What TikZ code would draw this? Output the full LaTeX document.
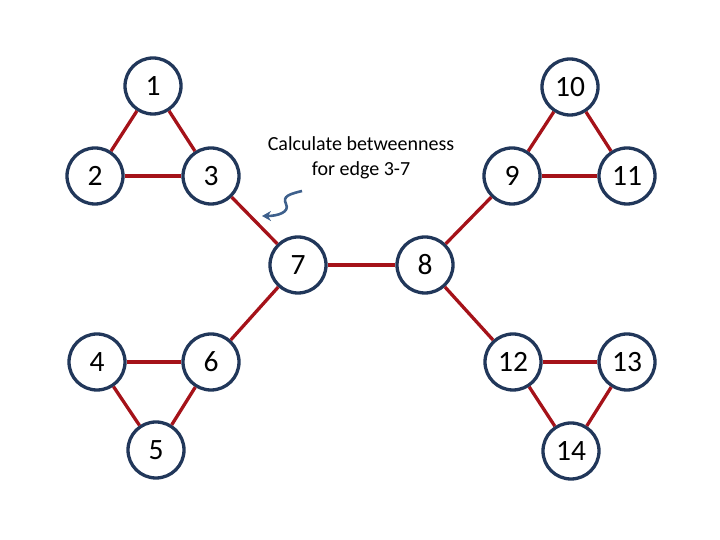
\documentclass[tikz,border=0pt]{standalone}
\usepackage{fontspec}
\setmainfont{Carlito}
\usetikzlibrary{arrows.meta}
\definecolor{nodeblue}{RGB}{33,55,90}
\definecolor{edgered}{RGB}{165,18,25}
\definecolor{arrowblue}{RGB}{62,96,140}
\begin{document}
\begin{tikzpicture}[x=1pt,y=1pt,
  vtx/.style={circle,draw=nodeblue,line width=3.3pt,fill=white,minimum size=56pt,inner sep=0pt,font=\fontsize{29.5}{32}\selectfont},
  edg/.style={draw=edgered,line width=3.3pt}]
\useasboundingbox (0,0) rectangle (720,540);
\node[vtx] (n1) at (153,454) {1};
\node[vtx] (n2) at (95,364) {2};
\node[vtx] (n3) at (211,364) {3};
\node[vtx] (n7) at (298,275) {7};
\node[vtx] (n8) at (425,275) {8};
\node[vtx] (n10) at (570,453) {10};
\node[vtx] (n9) at (512,364) {9};
\node[vtx] (n11) at (627,364) {11};
\node[vtx] (n4) at (97,178) {4};
\node[vtx] (n6) at (211,178) {6};
\node[vtx] (n5) at (156,90) {5};
\node[vtx] (n12) at (513,178) {12};
\node[vtx] (n13) at (627,178) {13};
\node[vtx] (n14) at (571,89) {14};
\draw[edg] (n1) -- (n2);
\draw[edg] (n1) -- (n3);
\draw[edg] (n2) -- (n3);
\draw[edg] (n3) -- (n7);
\draw[edg] (n7) -- (n8);
\draw[edg] (n7) -- (n6);
\draw[edg] (n4) -- (n6);
\draw[edg] (n4) -- (n5);
\draw[edg] (n6) -- (n5);
\draw[edg] (n8) -- (n9);
\draw[edg] (n8) -- (n12);
\draw[edg] (n10) -- (n9);
\draw[edg] (n10) -- (n11);
\draw[edg] (n9) -- (n11);
\draw[edg] (n12) -- (n13);
\draw[edg] (n12) -- (n14);
\draw[edg] (n13) -- (n14);
\node[align=center,font=\fontsize{20}{24.5}\selectfont] (cap) at (361,382) {Calculate betweenness\\for edge 3-7};
\coordinate (as) at (302,349);
\coordinate (ae) at (262,324);
\draw[arrowblue,line width=2.6pt,-{Stealth[length=9pt,width=10pt,inset=3pt]}] (as) .. controls (290,346) and (282,344) .. (286,336) .. controls (290,328) and (278,324) .. (ae);
\end{tikzpicture}
\end{document}
